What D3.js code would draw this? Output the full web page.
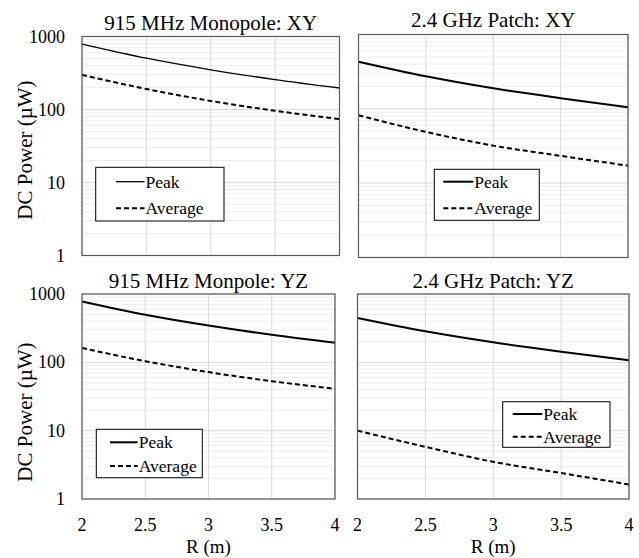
<!DOCTYPE html>
<html>
<head>
<meta charset="UTF-8">
<script src="https://cdnjs.cloudflare.com/ajax/libs/d3/7.8.5/d3.min.js"></script>
</head>
<body style="margin:0;background:#fff">
<div id="chart"></div>
<script>
// data
const distances = [2, 2.5, 3, 3.5, 4];
const xTicks = [2, 2.5, 3, 3.5, 4];
const yTicks = [1, 10, 100, 1000];
const seriesNames = ["Peak", "Average"];
const titles = ["915 MHz Monopole: XY", "2.4 GHz Patch: XY", "915 MHz Monpole: YZ", "2.4 GHz Patch: YZ"];

const monoXYPeak = [787, 504, 350, 257, 197];
const monoXYAvg = [298, 191, 131, 96, 74];
const patchXYPeak = [431, 274, 189, 139, 105];
const patchXYAvg = [82, 49, 32, 23.3, 17.2];
const monoYZPeak = [775, 496, 345, 253, 194];
const monoYZAvg = [162, 104, 72, 53, 41];
const patchYZPeak = [444, 284, 196, 143, 107];
const patchYZAvg = [10, 5.8, 3.5, 2.4, 1.63];

const W = 639, H = 558;
const FONT = "Liberation Serif";
const tickFont = 18;

// layout of each panel
const panels = [
  { title: titles[0], peak: monoXYPeak, avg: monoXYAvg, x0: 82, x1: 339.5, y0: 36.5, y1: 255.5, titleY: 30,
    yLabel: 150, showY: true, showX: false, peakW: 1.3,
    legend: { x: 95.7, y: 167.3, w: 128.3, h: 53.7, lx1: 116, lx2: 144.5, r1: 181.7, r2: 208.3 } },
  { title: titles[1], peak: patchXYPeak, avg: patchXYAvg, x0: 358.5, x1: 628, y0: 34.5, y1: 257.5, titleY: 27,
    showY: false, showX: false, peakW: 2,
    legend: { x: 434.3, y: 169.3, w: 105, h: 51, lx1: 443.3, lx2: 473.3, r1: 181.7, r2: 208.3 } },
  { title: titles[2], peak: monoYZPeak, avg: monoYZAvg, x0: 82, x1: 335, y0: 294, y1: 499, titleY: 288,
    yLabel: 412, showY: true, showX: true, peakW: 2,
    legend: { x: 96.3, y: 429.3, w: 106, h: 48.4, lx1: 110, lx2: 137.7, r1: 442.3, r2: 466 } },
  { title: titles[3], peak: patchYZPeak, avg: patchYZAvg, x0: 357.5, x1: 629, y0: 294, y1: 499, titleY: 288,
    showY: false, showX: true, peakW: 2,
    legend: { x: 502.7, y: 401.7, w: 107.3, h: 45.6, lx1: 512.7, lx2: 542.3, r1: 414, r2: 436.7 } }
];

const minorTicks = [];
[1, 10, 100].forEach(d => { for (let k = 2; k <= 9; k++) minorTicks.push(d * k); });

const svg = d3.select("#chart").append("svg")
  .attr("width", W)
  .attr("height", H)
  .attr("font-family", FONT);

// every label gets the serif face directly
const label = (sel, txt, size) => sel.append("text")
  .attr("font-family", FONT)
  .attr("font-size", size)
  .attr("fill", "#000")
  .text(txt);

panels.forEach(p => {
  const x = d3.scaleLinear().domain([2, 4]).range([p.x0, p.x1]);
  const y = d3.scaleLog().domain([1, 1000]).range([p.y1, p.y0]);
  const g = svg.append("g");

  // grid: minor, then major, drawn as plain lines from the scales
  g.selectAll("line.minor").data(minorTicks).join("line")
    .attr("x1", p.x0).attr("x2", p.x1)
    .attr("y1", d => y(d)).attr("y2", d => y(d))
    .attr("stroke", "#ededed");
  g.selectAll("line.major").data(yTicks).join("line")
    .attr("x1", p.x0).attr("x2", p.x1)
    .attr("y1", d => y(d)).attr("y2", d => y(d))
    .attr("stroke", "#d9d9d9");
  g.selectAll("line.vgrid").data(xTicks).join("line")
    .attr("x1", d => x(d)).attr("x2", d => x(d))
    .attr("y1", p.y0).attr("y2", p.y1)
    .attr("stroke", "#d9d9d9");

  // series
  const line = d3.line()
    .x((d, i) => x(distances[i]))
    .y(d => y(d))
    .curve(d3.curveMonotoneX);
  g.append("path")
    .datum(p.peak)
    .attr("d", line)
    .attr("fill", "none")
    .attr("stroke", "#000")
    .attr("stroke-width", p.peakW);
  g.append("path")
    .datum(p.avg)
    .attr("d", line)
    .attr("fill", "none")
    .attr("stroke", "#000")
    .attr("stroke-width", 2)
    .attr("stroke-dasharray", "5,3");

  // frame
  g.append("rect")
    .attr("x", p.x0).attr("y", p.y0)
    .attr("width", p.x1 - p.x0).attr("height", p.y1 - p.y0)
    .attr("fill", "none")
    .attr("stroke", "#595959")
    .attr("stroke-width", 1.2);

  // title
  label(g, p.title, 21)
    .attr("x", (p.x0 + p.x1) / 2)
    .attr("y", p.titleY)
    .attr("text-anchor", "middle");

  // tick labels and axis titles
  if (p.showY) {
    yTicks.forEach(t => {
      label(g, String(t), tickFont)
        .attr("x", p.x0 - 17)
        .attr("y", y(t) + 6)
        .attr("text-anchor", "end");
    });
    label(g, "DC Power (\u00B5W)", 21)
      .attr("transform", `translate(32,${p.yLabel}) rotate(-90)`)
      .attr("text-anchor", "middle");
  }
  if (p.showX) {
    xTicks.forEach(t => {
      label(g, String(t), tickFont)
        .attr("x", x(t))
        .attr("y", 531)
        .attr("text-anchor", "middle");
    });
    label(g, "R (m)", 19)
      .attr("x", (p.x0 + p.x1) / 2)
      .attr("y", 553)
      .attr("text-anchor", "middle");
  }

  // legend
  const L = p.legend;
  const lg = g.append("g");
  lg.append("rect")
    .attr("x", L.x).attr("y", L.y).attr("width", L.w).attr("height", L.h)
    .attr("fill", "#fff").attr("stroke", "#000").attr("stroke-width", 1);
  [L.r1, L.r2].forEach((ry, i) => {
    lg.append("line")
      .attr("x1", L.lx1).attr("x2", L.lx2).attr("y1", ry).attr("y2", ry)
      .attr("stroke", "#000")
      .attr("stroke-width", i === 0 ? p.peakW : 2)
      .attr("stroke-dasharray", i === 0 ? null : "5,3");
    label(lg, seriesNames[i], 17.5)
      .attr("x", L.lx2 + 1)
      .attr("y", ry + 5.8);
  });
});
</script>
</body>
</html>
